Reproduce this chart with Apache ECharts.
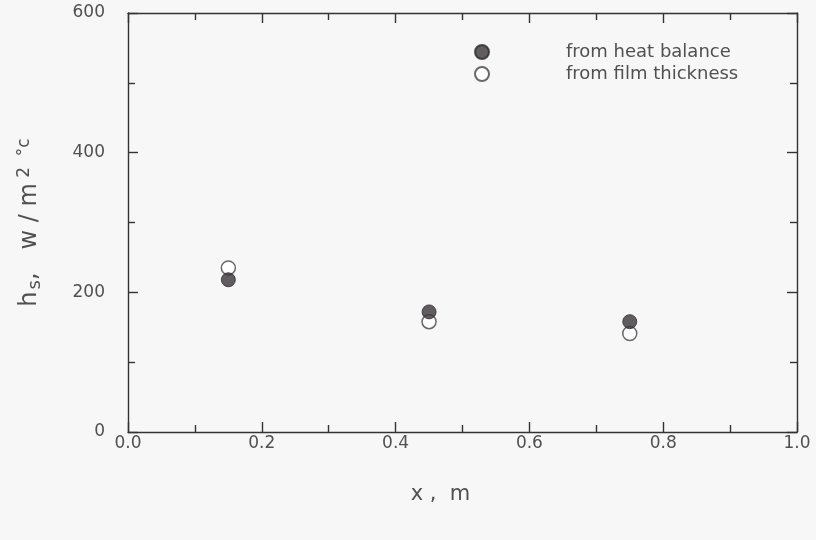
<!DOCTYPE html>
<html>
<head>
<meta charset="utf-8">
<script src="https://cdn.jsdelivr.net/npm/echarts@6/dist/echarts.min.js"></script>
<style>
html,body{margin:0;padding:0;background:#f7f7f7;}
#chart{width:816px;height:540px;}
</style>
</head>
<body>
<div id="chart"></div>
<script>
const xPositions = [0.15, 0.45, 0.75];
const heatBalance = [218, 172, 158];
const filmThickness = [235, 158, 141];
const seriesNames = ['from heat balance', 'from film thickness'];
const xTicks = [0.0, 0.2, 0.4, 0.6, 0.8, 1.0];
const yTicks = [0, 200, 400, 600];

const FONT = 'DejaVu Sans';
const GRAY = '#505050';

const chart = echarts.init(document.getElementById('chart'));
const axisLine = {show: true, onZero: false, lineStyle: {color: '#333', width: 1.4}};
const tickStyle = {show: true, inside: true, length: 10, lineStyle: {color: '#333', width: 1.4}};
const minorStyle = {show: true, splitNumber: 2, length: 7, lineStyle: {color: '#333', width: 1.4}};

chart.setOption({
  backgroundColor: '#f7f7f7',
  animation: false,
  grid: {left: 128, right: 19, top: 13, bottom: 108},
  legend: {
    orient: 'vertical', left: 469, top: 38, itemGap: 4,
    itemWidth: 14, itemHeight: 14,
    data: [
      {name: seriesNames[0], icon: 'circle'},
      {name: seriesNames[1], icon: 'circle'}
    ],
    textStyle: {fontFamily: FONT, fontSize: 18, color: GRAY, padding: [0, 0, 0, 72]}
  },
  xAxis: [{
    type: 'value', min: xTicks[0], max: xTicks[xTicks.length - 1], interval: 0.2,
    name: 'x ,  m', nameLocation: 'middle', nameGap: 52,
    nameTextStyle: {fontFamily: FONT, fontSize: 21, color: GRAY, padding: [0, 44, 0, 0]},
    axisLine: axisLine, axisTick: tickStyle, minorTick: minorStyle,
    splitLine: {show: false},
    axisLabel: {fontFamily: FONT, fontSize: 17, color: GRAY, margin: 3,
      formatter: v => v.toFixed(1)}
  }, {
    type: 'value', position: 'top', min: xTicks[0], max: xTicks[xTicks.length - 1], interval: 0.2,
    axisLine: axisLine, axisTick: tickStyle, minorTick: minorStyle,
    splitLine: {show: false}, axisLabel: {show: false}
  }],
  yAxis: [{
    type: 'value', min: yTicks[0], max: yTicks[yTicks.length - 1], interval: 200,
    name: '{a|h}{s|s}{a|,   w / m}{p| 2  °c}', nameLocation: 'middle', nameGap: 84,
    nameTextStyle: {
      fontFamily: FONT, color: GRAY,
      rich: {
        a: {fontFamily: FONT, fontSize: 24, color: GRAY},
        s: {fontFamily: FONT, fontSize: 18, color: GRAY, padding: [10, 0, 0, 2]},
        p: {fontFamily: FONT, fontSize: 17, color: GRAY, padding: [0, 0, 10, 0]}
      }
    },
    axisLine: axisLine, axisTick: tickStyle, minorTick: minorStyle,
    splitLine: {show: false},
    axisLabel: {fontFamily: FONT, fontSize: 17, color: GRAY, margin: 23}
  }, {
    type: 'value', position: 'right', min: yTicks[0], max: yTicks[yTicks.length - 1], interval: 200,
    axisLine: axisLine, axisTick: tickStyle, minorTick: minorStyle,
    splitLine: {show: false}, axisLabel: {show: false}
  }],
  series: [{
    name: seriesNames[0], type: 'scatter', symbol: 'circle', symbolSize: 14, z: 3,
    itemStyle: {color: '#3b3538', borderColor: '#2a2a2a', borderWidth: 1},
    data: xPositions.map((x, i) => [x, heatBalance[i]])
  }, {
    name: seriesNames[1], type: 'scatter', symbol: 'circle', symbolSize: 14, z: 2,
    itemStyle: {color: '#ffffff', borderColor: '#444', borderWidth: 1.5},
    data: xPositions.map((x, i) => [x, filmThickness[i]])
  }]
});
</script>
</body>
</html>
